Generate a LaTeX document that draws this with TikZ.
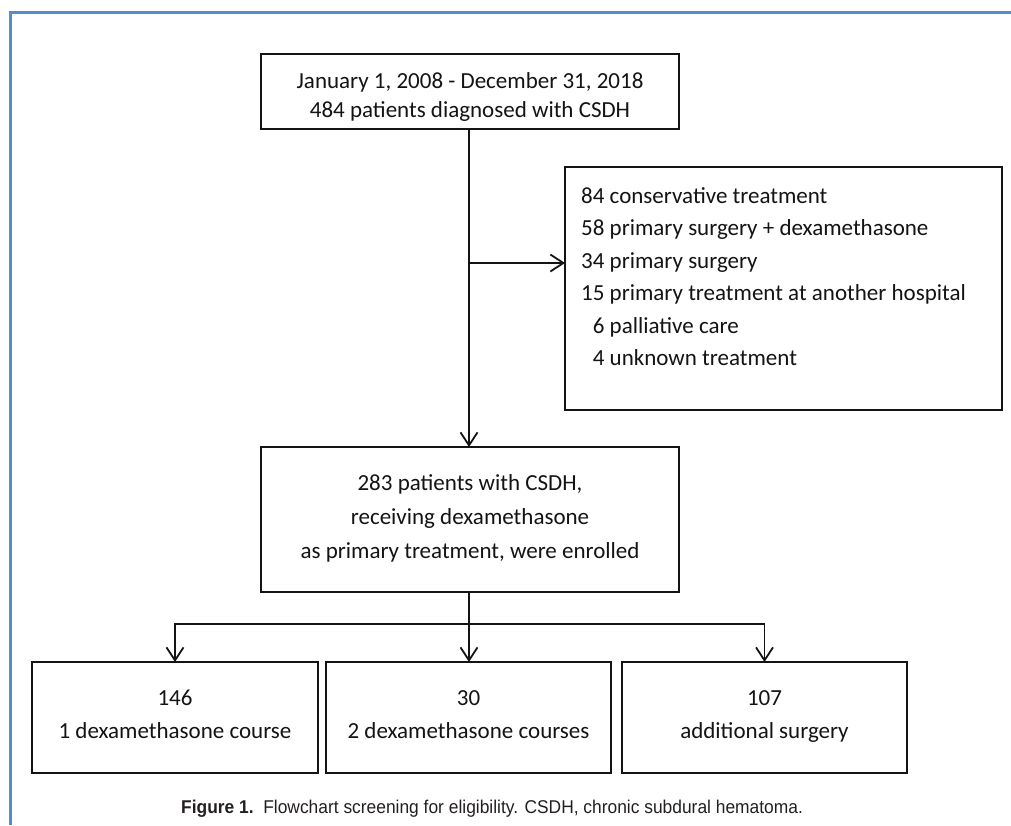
\documentclass[tikz,border=0pt]{standalone}
\usepackage{fontspec}
\setmainfont{Carlito}
\newfontfamily\capfont[FakeStretch=0.94]{Liberation Sans}
\usetikzlibrary{arrows.meta}
\definecolor{frameblue}{RGB}{84,141,204}
\definecolor{ink}{RGB}{20,20,20}
\definecolor{capink}{RGB}{35,31,32}
\tikzset{
  boxshape/.style={draw=ink, line width=2pt, inner sep=0pt, outer sep=0pt, fill=white},
  boxtext/.style={inner sep=0pt, text=ink, font=\fontsize{23}{#1}\selectfont},
  conn/.style={draw=ink, line width=1.8pt},
  arr/.style={conn, -{Straight Barb[length=13pt,width=17pt,line width=1.8pt]}}
}
\begin{document}
\begin{tikzpicture}[x=1pt,y=-1pt]
\useasboundingbox (0,0) rectangle (1011,825);
% blue frame
\draw[frameblue, line width=3pt] (1011,12) -- (10,12) -- (10,825);
% boxes
\node[boxshape, minimum width=418pt, minimum height=75pt] (b1) at (470,91.5) {};
\node[boxshape, minimum width=437pt, minimum height=243pt] (side) at (783.5,288.5) {};
\node[boxshape, minimum width=418pt, minimum height=145pt] (b2) at (470,519.5) {};
\node[boxshape, minimum width=286pt, minimum height=111pt] (bA) at (175,717.5) {};
\node[boxshape, minimum width=285pt, minimum height=111pt] (bB) at (468.5,717.5) {};
\node[boxshape, minimum width=285pt, minimum height=111pt] (bC) at (764.5,717.5) {};
% texts
\node[boxtext=28.4pt, align=center] (t1) at (470,97.5) {\strut January 1, 2008 - December 31, 2018\\484 patients diagnosed with CSDH\strut};
\node[boxtext=32.4pt, align=left, anchor=west] (tside) at (581,278) {\strut 84 conservative treatment\\58 primary surgery + dexamethasone\\34 primary surgery\\15 primary treatment at another hospital\\\phantom{1}6 palliative care\\\phantom{1}4 unknown treatment\strut};
\node[boxtext=34pt, align=center] (t2) at (470,518) {\strut 283 patients with CSDH,\\receiving dexamethasone\\as primary treatment, were enrolled\strut};
\node[boxtext=33pt, align=center] (tA) at (175,715.5) {\strut 146\\1 dexamethasone course\strut};
\node[boxtext=33pt, align=center] (tB) at (468.5,715.5) {\strut 30\\2 dexamethasone courses\strut};
\node[boxtext=33pt, align=center] (tC) at (764.5,715.5) {\strut 107\\additional surgery\strut};
% connectors
\coordinate (br) at (469,263);
\coordinate (split) at (469,624);
\draw[arr] (b1.south -| br) -- (b2.north -| br);
\draw[arr] (br) -- (br -| side.west);
\draw[conn] (b2.south -| split) -- (split);
\draw[arr] (split) -| (bA.north);
\draw[arr] (split) -| (bC.north);
\draw[arr] (split) -- (bB.north -| split);
% caption
\node[anchor=base west, inner sep=0pt, text=capink, font=\capfont\fontsize{18.5}{20}\selectfont] (cap) at (181,813) {\textbf{Figure 1.}\ \ Flowchart screening for eligibility. CSDH, chronic subdural hematoma.};
\end{tikzpicture}
\end{document}
